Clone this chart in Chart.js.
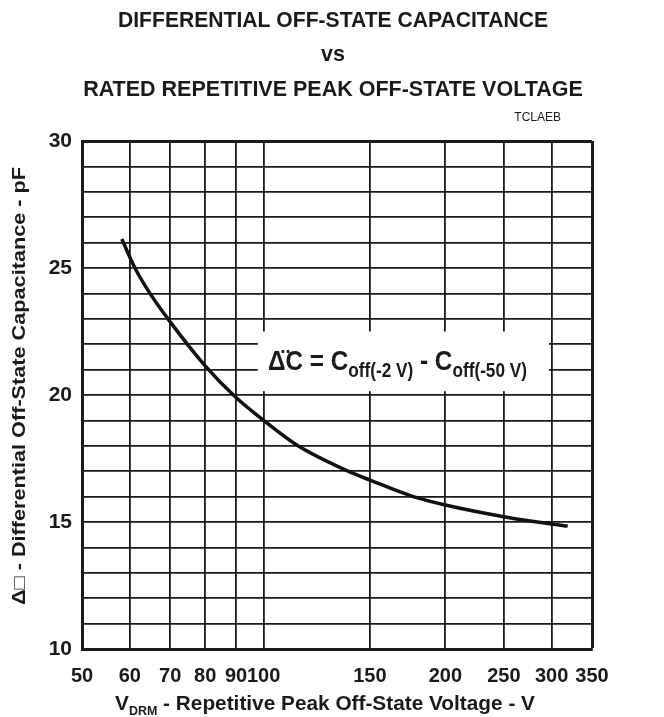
<!DOCTYPE html>
<html><head><meta charset="utf-8">
<script src="https://cdn.jsdelivr.net/npm/chart.js@4"></script>
<style>html,body{margin:0;padding:0;background:#fff}</style>
</head><body>
<canvas id="c" width="664" height="717"></canvas>
<script>
// ---- data ----
const voltage = [58.2, 61.2, 64.8, 70, 80, 90, 100, 114, 138, 150, 177, 200, 250, 300, 319];
const capacitance = [26.14, 25.0, 24.0, 22.88, 21.15, 19.9, 19.0, 18.0, 17.0, 16.65, 16.0, 15.67, 15.21, 14.92, 14.84];
const xTickValues = [50, 60, 70, 80, 90, 100, 150, 200, 250, 300, 350];
const yTickLabels = [10, 15, 20, 25, 30];
const titleLines = ['DIFFERENTIAL OFF-STATE CAPACITANCE', 'vs', 'RATED REPETITIVE PEAK OFF-STATE VOLTAGE'];
const figureCode = 'TCLAEB';
const yAxisTitle = [{t:'Δ□ - Differential Off-State Capacitance - pF', s:18, dy:0}];
const xAxisTitle = [{t:'V', s:20, dy:0}, {t:'DRM', s:12, dy:5}, {t:' - Repetitive Peak Off-State Voltage - V', s:20, dy:0}];
const noteText = [{t:'Δ\u0308C = C', s:24, dy:0}, {t:'off(-2 V)', s:17, dy:7}, {t:' - C', s:24, dy:0}, {t:'off(-50 V)', s:17, dy:7}];
const noteBox = {xMin: 97.8, xMax: 297, yMin: 20.15, yMax: 22.5};

const FONT = '"Liberation Sans", Arial, Helvetica, sans-serif';

// draws bold text runs; optional target width (horizontal fit) and vertical scale
function drawRuns(ctx, runs, x, y, align, targetW, sy) {
  let w = 0;
  runs.forEach(r => { ctx.font = 'bold ' + r.s + 'px ' + FONT; r.w = ctx.measureText(r.t).width; w += r.w; });
  const sx = targetW ? targetW / w : 1;
  sy = sy || 1;
  ctx.save();
  ctx.translate(x, y);
  ctx.scale(sx, sy);
  let cx = align === 'center' ? -w / 2 : (align === 'right' ? -w : 0);
  ctx.textAlign = 'left';
  ctx.textBaseline = 'alphabetic';
  runs.forEach(r => { ctx.font = 'bold ' + r.s + 'px ' + FONT; ctx.fillText(r.t, cx, r.dy / sy); cx += r.w; });
  ctx.restore();
}

const decor = {
  id: 'decor',
  beforeDatasetsDraw(chart) {
    const {ctx, scales: {x, y}} = chart;
    const l = x.getPixelForValue(noteBox.xMin), r = x.getPixelForValue(noteBox.xMax);
    const t = y.getPixelForValue(noteBox.yMax), b = y.getPixelForValue(noteBox.yMin);
    ctx.save();
    ctx.fillStyle = '#fff';
    ctx.fillRect(l, t, r - l, b - t);
    ctx.fillStyle = '#1a1a1a';
    drawRuns(ctx, noteText, 397.5, 370, 'center', 259, 1.15);
    ctx.restore();
  },
  afterDraw(chart) {
    const {ctx} = chart;
    ctx.save();
    ctx.fillStyle = '#1a1a1a';
    drawRuns(ctx, [{t:titleLines[0], s:21.5, dy:0}], 333, 27, 'center', 430, 1.05);
    drawRuns(ctx, [{t:titleLines[1], s:21.5, dy:0}], 333, 61, 'center', 0, 1.05);
    drawRuns(ctx, [{t:titleLines[2], s:21.5, dy:0}], 333, 96, 'center', 0, 1.05);
    ctx.font = '12px ' + FONT;
    ctx.textAlign = 'right';
    ctx.textBaseline = 'alphabetic';
    ctx.fillText(figureCode, 561, 121);
    // y axis title
    ctx.save();
    ctx.translate(25, 386);
    ctx.rotate(-Math.PI / 2);
    drawRuns(ctx, yAxisTitle, 0, 0, 'center', 438, 1);
    ctx.restore();
    drawRuns(ctx, xAxisTitle, 325, 710, 'center', 420, 1.05);
    ctx.restore();
  }
};

new Chart(document.getElementById('c'), {
  type: 'line',
  data: {
    datasets: [{
      data: voltage.map((v, i) => ({x: v, y: capacitance[i]})),
      borderColor: '#111',
      borderWidth: 3.5,
      pointRadius: 0,
      cubicInterpolationMode: 'monotone',
      fill: false
    }]
  },
  options: {
    responsive: false,
    animation: false,
    devicePixelRatio: 1,
    layout: {padding: {left: 0, right: 72, top: 141, bottom: 0}},
    plugins: {legend: {display: false}, tooltip: {enabled: false}, title: {display: false}},
    scales: {
      x: {
        type: 'logarithmic',
        min: 50, max: 350,
        afterBuildTicks(s) { s.ticks = xTickValues.map(v => ({value: v})); },
        afterFit(s) { s.height = 68; },
        grid: {color: '#1a1a1a', lineWidth: c => (c.tick && c.tick.value === 350 ? 3 : 1.8), drawTicks: false},
        border: {color: '#1a1a1a', width: 3},
        ticks: {
          autoSkip: false, maxRotation: 0, padding: 15,
          color: '#1a1a1a', font: {family: FONT, size: 20, weight: 'bold'},
          callback: v => String(v)
        }
      },
      y: {
        min: 10, max: 30,
        afterFit(s) { s.width = 82; },
        grid: {color: '#1a1a1a', lineWidth: c => (c.tick && c.tick.value === 30 ? 3 : 1.8), drawTicks: false},
        border: {color: '#1a1a1a', width: 3},
        ticks: {
          stepSize: 1, autoSkip: false, padding: 10,
          color: '#1a1a1a', font: {family: FONT, size: 21, weight: 'bold'},
          callback: v => (yTickLabels.includes(v) ? String(v) : '')
        }
      }
    }
  },
  plugins: [decor]
});
</script>
</body></html>
